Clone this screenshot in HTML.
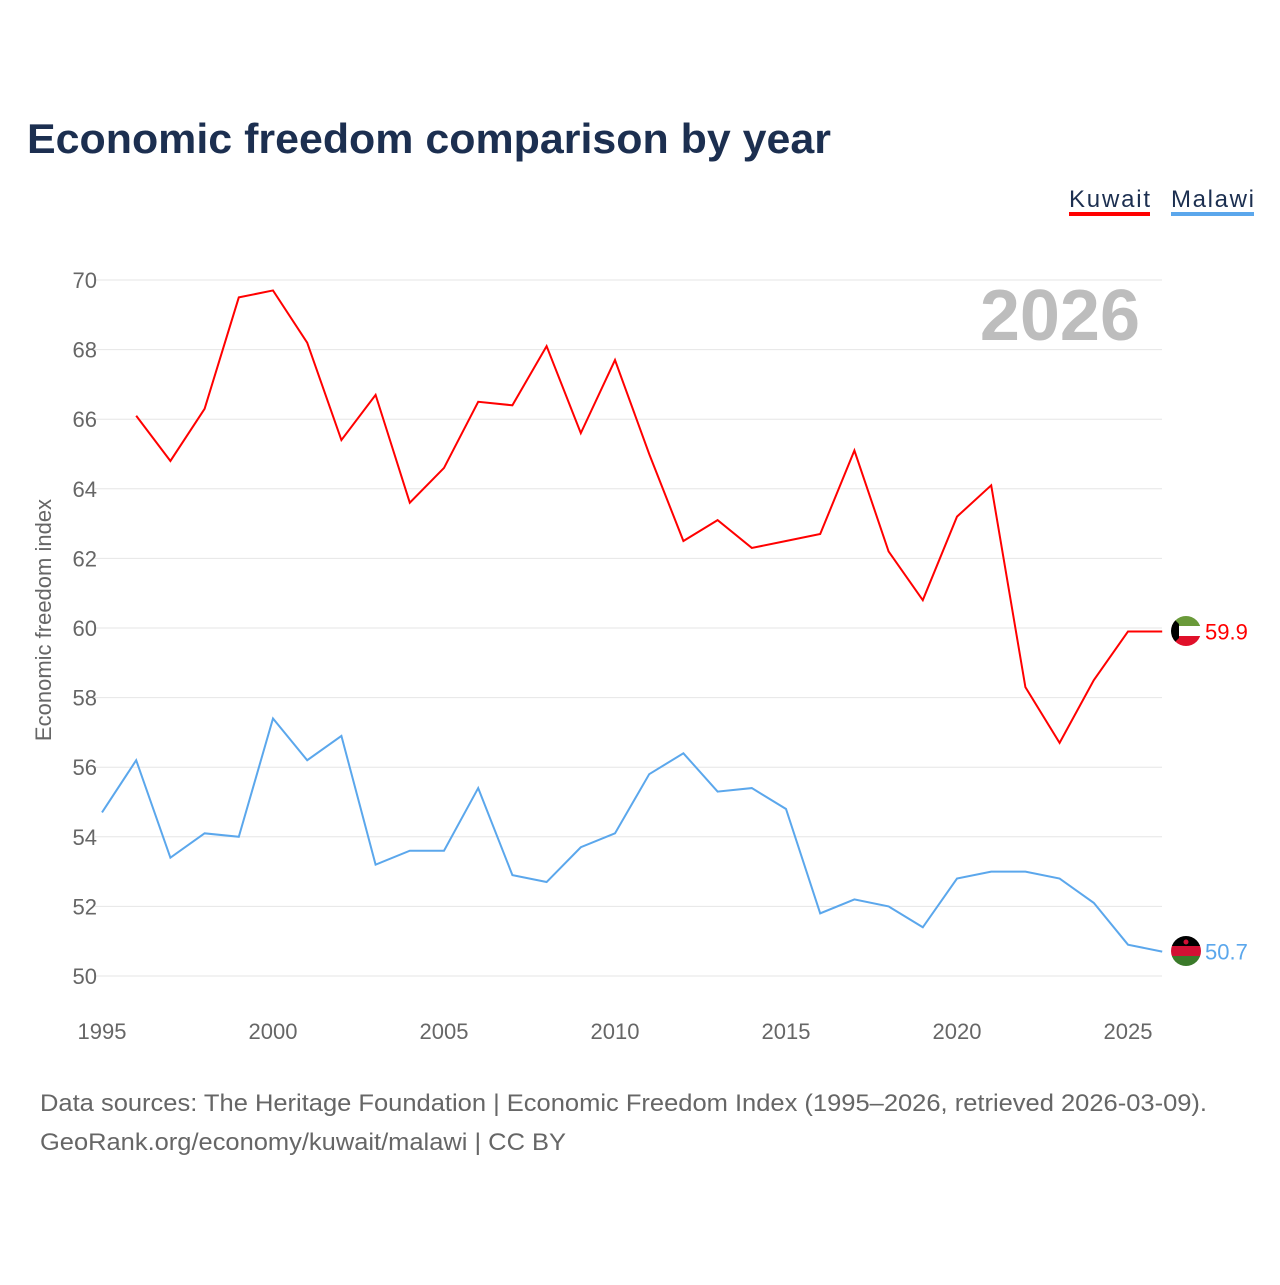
<!DOCTYPE html>
<html><head><meta charset="utf-8"><style>
body{margin:0;background:#fff;font-family:"Liberation Sans",sans-serif;}
svg text{font-family:"Liberation Sans",sans-serif;}
</style></head><body>
<svg id="chart" width="1280" height="1280">
<defs>
<clipPath id="clipK"><circle cx="1186" cy="631" r="15"/></clipPath>
<clipPath id="clipM"><circle cx="1186" cy="951" r="15"/></clipPath>
</defs>
<text x="27" y="153" font-size="42" font-weight="bold" fill="#1c2f50" textLength="804" lengthAdjust="spacingAndGlyphs">Economic freedom comparison by year</text>
<g><text x="1069" y="207" font-size="24" fill="#1c2f50" textLength="81">Kuwait</text><rect x="1069" y="212" width="81" height="4" fill="#ff0000"/></g>
<g><text x="1171" y="207" font-size="24" fill="#1c2f50" textLength="83">Malawi</text><rect x="1171" y="212" width="83" height="4" fill="#5ba7ec"/></g>
<text x="1140" y="340" font-size="72" font-weight="bold" fill="#bdbdbd" text-anchor="end">2026</text>
<text transform="translate(51,620) rotate(-90)" font-size="22" fill="#666" text-anchor="middle">Economic freedom index</text>
<g id="grid"></g><g id="series"></g>
<text x="40" y="1111" font-size="24" fill="#666" textLength="1167" lengthAdjust="spacingAndGlyphs">Data sources: The Heritage Foundation | Economic Freedom Index (1995–2026, retrieved 2026-03-09).</text>
<text x="40" y="1150" font-size="24" fill="#666" textLength="526" lengthAdjust="spacingAndGlyphs">GeoRank.org/economy/kuwait/malawi | CC BY</text>
<g clip-path="url(#clipK)">
<rect x="1171" y="616" width="30" height="10" fill="#6a9a3a"/><rect x="1171" y="626" width="30" height="10" fill="#fff"/><rect x="1171" y="636" width="30" height="10" fill="#e0102a"/>
<polygon points="1171,616 1179,624 1179,638 1171,646" fill="#000"/>
</g>
<g clip-path="url(#clipM)">
<rect x="1171" y="936" width="30" height="10" fill="#000"/><rect x="1171" y="946" width="30" height="10" fill="#d21034"/><rect x="1171" y="956" width="30" height="10" fill="#3a7a2a"/>
<circle cx="1186" cy="942" r="2.5" fill="#d21034"/>
</g>
</svg>
<script>
const yTicks=[50,52,54,56,58,60,62,64,66,68,70];
const xTicks=[1995,2000,2005,2010,2015,2020,2025];
const kuwaitYears=[1996,1997,1998,1999,2000,2001,2002,2003,2004,2005,2006,2007,2008,2009,2010,2011,2012,2013,2014,2015,2016,2017,2018,2019,2020,2021,2022,2023,2024,2025,2026];
const kuwaitValues=[66.1,64.8,66.3,69.5,69.7,68.2,65.4,66.7,63.6,64.6,66.5,66.4,68.1,65.6,67.7,65.0,62.5,63.1,62.3,62.5,62.7,65.1,62.2,60.8,63.2,64.1,58.3,56.7,58.5,59.9,59.9];
const malawiYears=[1995,1996,1997,1998,1999,2000,2001,2002,2003,2004,2005,2006,2007,2008,2009,2010,2011,2012,2013,2014,2015,2016,2017,2018,2019,2020,2021,2022,2023,2024,2025,2026];
const malawiValues=[54.7,56.2,53.4,54.1,54.0,57.4,56.2,56.9,53.2,53.6,53.6,55.4,52.9,52.7,53.7,54.1,55.8,56.4,55.3,55.4,54.8,51.8,52.2,52.0,51.4,52.8,53.0,53.0,52.8,52.1,50.9,50.7];
const xs=y=>102+(y-1995)*34.2;
const ys=v=>976-(v-50)*34.8;
const NS="http://www.w3.org/2000/svg";
const grid=document.getElementById('grid'),ser=document.getElementById('series');
function mk(tag,attrs,parent,txt){const e=document.createElementNS(NS,tag);for(const k in attrs)e.setAttribute(k,attrs[k]);if(txt!==undefined)e.textContent=txt;parent.appendChild(e);return e;}
yTicks.forEach(t=>{
 const l=mk('line',{x1:95,x2:1162,y1:ys(t),y2:ys(t),stroke:'#e6e6e6','stroke-width':1},grid);
 
 
 const tx=mk('text',{x:97,y:ys(t)+8,'font-size':22,fill:'#666','text-anchor':'end'},grid,t);
 
 
});
xTicks.forEach(t=>{
 const tx=mk('text',{x:xs(t),y:1039,'font-size':22,fill:'#666','text-anchor':'middle'},grid,t);
 
 
});
function line(years,vals,color,name){
 const p=mk('polyline',{points:years.map((y,i)=>xs(y)+','+ys(vals[i])).join(' '),fill:'none',stroke:color,'stroke-width':2},ser);
 
 
 const lv=vals[vals.length-1],ly=ys(lv);
 const t=mk('text',{x:1205,y:ly+8,'font-size':22,fill:color},ser,lv.toFixed(1));
 
 
}
line(kuwaitYears,kuwaitValues,'#ff0000','kuwait');
line(malawiYears,malawiValues,'#5ba7ec','malawi');
</script>
</body></html>
